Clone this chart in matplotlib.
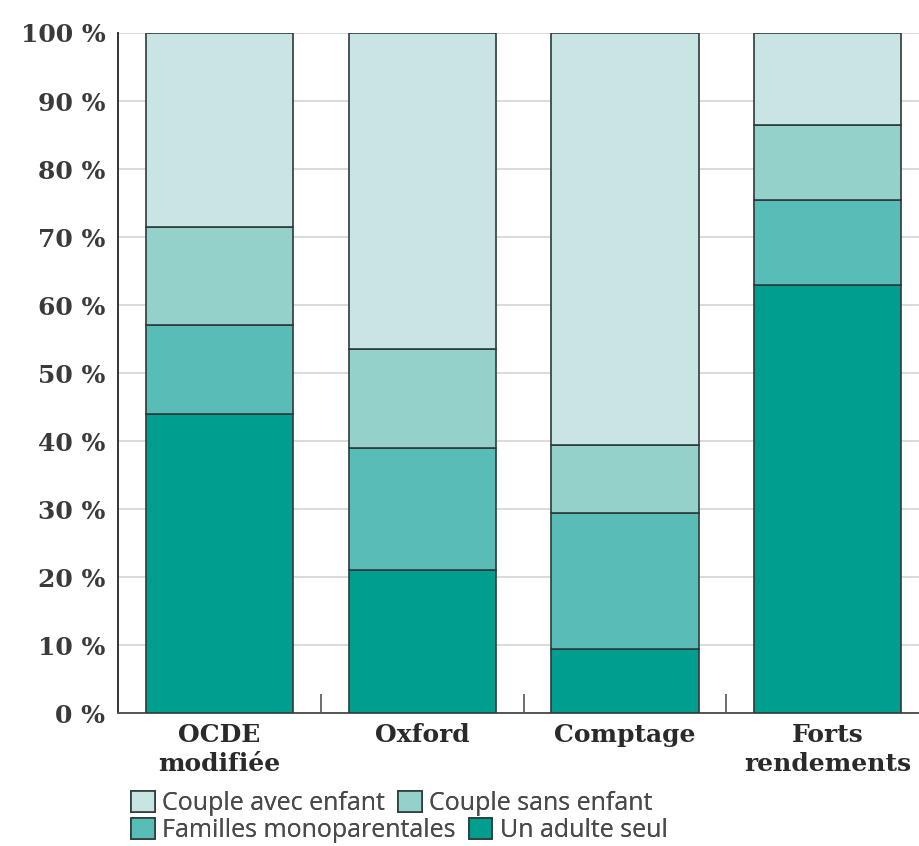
import matplotlib.pyplot as plt
import numpy as np

# Parts of households by equivalence scale, in percent (stacked bottom to top)
scales = ["OCDE\nmodifiée", "Oxford", "Comptage", "Forts\nrendements"]
adulte_seul = [44.0, 21.0, 9.5, 63.0]
monoparentales = [13.0, 18.0, 20.0, 12.5]
couple_sans = [14.5, 14.5, 10.0, 11.0]
couple_avec = [28.5, 46.5, 60.5, 13.5]

series = [
    ("Un adulte seul", adulte_seul, "#009e8f"),
    ("Familles monoparentales", monoparentales, "#57bdb6"),
    ("Couple sans enfant", couple_sans, "#93d1ca"),
    ("Couple avec enfant", couple_avec, "#c8e5e3"),
]

fig = plt.figure(figsize=(9.2, 8.46), dpi=100)
ax = fig.add_axes([0.128, 0.157, 0.88, 0.804])

x = np.arange(len(scales))
bottom = np.zeros(len(scales))
handles = {}
for label, values, color in series:
    bars = ax.bar(x, values, width=0.725, bottom=bottom, color=color,
                  edgecolor="#2f3a3a", linewidth=1.2, label=label, zorder=3)
    handles[label] = bars
    bottom += np.array(values)

ax.set_xlim(-0.5, 3.49)
ax.set_ylim(0, 100)
ax.set_yticks(np.arange(0, 101, 10))
ax.set_yticklabels([f"{v} %" for v in range(0, 101, 10)],
                   fontfamily="DejaVu Serif", fontweight="bold",
                   fontsize=18, color="#3a3a3a")
ax.tick_params(axis="y", length=0, pad=9)
ax.yaxis.grid(True, color="#d4d4d4", linewidth=1.2, zorder=0)

# category labels centred under bars, separator ticks between them
ax.set_xticks(x)
ax.set_xticklabels(scales, fontfamily="DejaVu Serif", fontweight="bold",
                   fontsize=18, color="#2a2a2a", linespacing=1.25)
ax.tick_params(axis="x", length=0, pad=7)
ax.set_xticks(x[:-1] + 0.5, minor=True)
ax.tick_params(axis="x", which="minor", direction="in", length=14,
               width=1.2, color="#555555")

for side in ("top", "right"):
    ax.spines[side].set_visible(False)
ax.spines["left"].set_color("#333333")
ax.spines["left"].set_linewidth(1.4)
ax.spines["bottom"].set_color("#555555")
ax.spines["bottom"].set_linewidth(1.4)

# two legend rows, each flowing left to right
legend_rows = [
    (["Couple avec enfant", "Couple sans enfant"], 0.016),
    (["Familles monoparentales", "Un adulte seul"], -0.016),
]
for names, y0 in legend_rows:
    leg = fig.legend([handles[k] for k in names], names, ncol=2,
                     loc="lower left", bbox_to_anchor=(0.125, y0),
                     frameon=False, handlelength=0.95, handleheight=0.95,
                     handletextpad=0.3, columnspacing=0.5, borderpad=0.15,
                     prop={"family": "Open Sans", "size": 18})
    for t in leg.get_texts():
        t.set_color("#4a4a4a")
    fig.add_artist(leg)

fig.savefig("out.png", dpi=100)
